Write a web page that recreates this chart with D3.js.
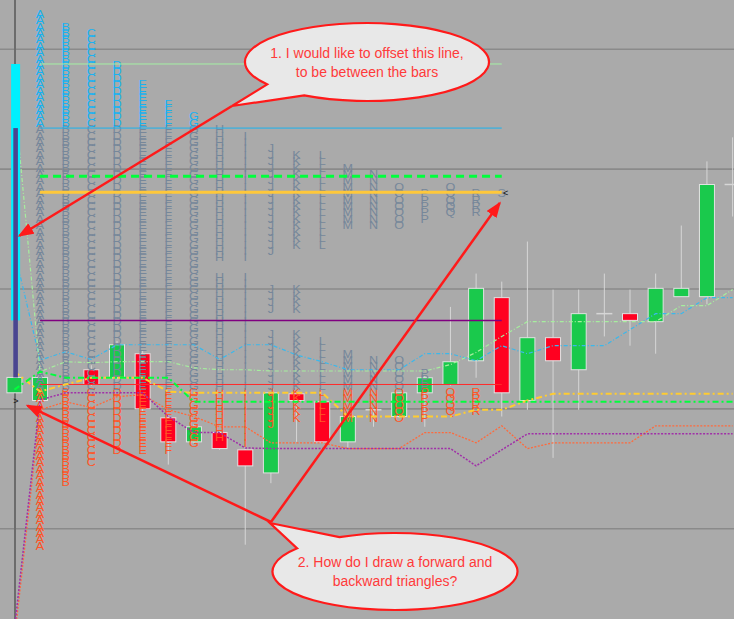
<!DOCTYPE html>
<html><head><meta charset="utf-8">
<script src="https://cdn.jsdelivr.net/npm/d3@7"></script>
<style>html,body{margin:0;padding:0;background:#aaaaaa;overflow:hidden}</style>
</head><body>
<svg id="chart" width="734" height="619"></svg>
<script>
// ---------------- DATA (price in ticks) ----------------
const barIndex = d3.range(29);
const opens  = [23.9, 22.7, null, 27.5, 26.25, 30, 20, 16.25, 17.7, 15, 11.4, 23.75, 22.5, 16.25, 21.25, 20.2, 23.9, 25.2, 28.9, 38.75, 22.7, 32.5, 27.5, 36.25, 36.25, 35, 38.9, 38.9, 56.4];
const highs  = [26.3, 26.5, null, 28.2, 32, 30.5, 20.5, 19, 18, 15.5, 24, 24, 22.5, 20.5, 21.25, 24, 26.5, 37.3, 42.5, 41.25, 47.5, 40, 40, 42.5, 40, 42.5, 50, 60, 63.75];
const lows   = [23.9, 22.5, null, 25, 26, 21, 12.7, 16, 15, 0.2, 9.8, 16.25, 16, 15.3, 18.6, 20, 18.6, 25, 26.25, 20.2, 21.25, 13.75, 21.25, 32.7, 31.25, 30, 38.9, 37.7, 51.4];
const closes = [26.3, 26.3, null, 25.2, 31.4, 21.4, 16.25, 18.6, 15.2, 12.5, 23.9, 22.7, 16.25, 20.2, 21.25, 23.9, 26.25, 28.75, 40.2, 23.9, 32.5, 28.9, 36.25, 36.25, 35.2, 40.2, 40.2, 56.4, 56.4];

const tpoLetters = "ABCDEFGHIJKLMNOPQRS".split("");
const tpoRanges = [
  [[0,83]], [[10,81]], [[13,80]], [[15,75]], [[15,72]], [[15,69]], [[16,67]],
  [[17,42],[45,65]], [[16,42],[45,64]],
  [[19,33],[37,40],[46,62]], [[20,33],[37,40],[47,61]],
  [[20,32],[47,61]], [[20,30],[50,59]], [[20,29],[50,58]], [[20,29],[50,56]],
  [[20,27],[51,55]], [[21,24],[52,56]], [[21,24],[52,55]], [[55,55]]
];
const valueAreaLow = 25, valueAreaHigh = 65;

// profile horizontal levels: prior high, VAH, dashed level, POC, mid, VAL
const profileLevels = [75.2, 65.2, 57.7, 55.2, 35.2, 25.2];

const lineLightBlue  = [46, 29, 30.3, 29.1, 31.4, 31.4, 31.4, 31.4, 29.1, 31.4, 31.4, 29.8, 28.75, 27.5, 27.5, 27.5, 30, 30, 28.9, 31.25, 30, 31.25, 31.25, 31.25, 33.75, 36.25, 36.25, 38.75, 38.75];
const lineLightGreen = [70, 27.2, 28.75, 28.6, 28.75, 28.75, 28.75, 27.8, 27.5, 27.5, 27.3, 27.3, 27.3, 27.3, 27.3, 27.3, 27.3, 28.3, 30.2, 32.7, 35, 35, 35, 35, 35, 35, 37.5, 37.5, 40];
const lineGreen      = [24.4, 27.2, 26.25, 26.25, 26.25, 26.25, 26.25, 22.5, 22.5, 22.5, 22.5, 22.5, 22.5, 22.5, 22.5, 22.5, 22.5, 22.5, 22.5, 22.5, 22.5, 22.5, 22.5, 22.5, 22.5, 22.5, 22.5, 22.5, 22.5];
const lineYellow     = [27.2, 24.1, 25.2, 26.25, 26.25, 26.25, 24.1, 23.9, 23.9, 23.9, 23.9, 23.9, 23.9, 20.2, 20.2, 20.2, 20.2, 20.2, 21.25, 21.25, 22.7, 23.75, 23.75, 23.75, 23.75, 23.75, 23.75, 23.75, 23.75];
const linePurple     = [-13, 22.8, 23.9, 23.9, 23.9, 23.9, 20.2, 17.7, 17.7, 15.3, 15.2, 15.2, 15.2, 15.2, 15.2, 15.2, 15.2, 15.2, 12.5, 15, 17.5, 17.5, 17.5, 17.5, 17.5, 17.5, 17.5, 17.5, 17.5];
const lineOrange     = [-14.7, 21.25, 22.5, 21.6, 23.3, 23.6, 21.25, 20.2, 18.6, 18.6, 16.1, 16.1, 16.1, 15.2, 15.2, 15.2, 17.7, 17.7, 16.1, 18.75, 15.2, 16.1, 16.1, 16.1, 16.1, 18.75, 18.75, 18.75, 18.75];

const rangeBarTop    = [75.2, 65.2];
const rangeBarBottom = [35.2, 26.3];

const gridLevels = [2.7, 21.4, 40.1, 58.8, 77.5];
const gridBars = [0];

const forwardMarkLevel = 22.6, backwardMarkLevel = 55.1;

const note1 = ["1. I would like to offset this line,", "to be between the bars"];
const note2 = ["2. How do I draw a forward and", "backward triangles?"];

// ---------------- SCALES ----------------
const W = 734, H = 619;
const svg = d3.select("#chart");
const x = d3.scaleLinear().domain([0, 28]).range([14.4, 732.6]);
const y = d3.scaleLinear().domain([0, 83]).range([546, 14]);

svg.append("rect").attr("width", W).attr("height", H).attr("fill", "#aaaaaa");

// grid
svg.append("g").selectAll("line").data(gridLevels).join("line")
  .attr("x1", 0).attr("x2", W).attr("y1", d => y(d)).attr("y2", d => y(d))
  .attr("stroke", "#8a8a8a").attr("stroke-width", 1.6);
svg.append("g").selectAll("line").data(gridBars).join("line")
  .attr("x1", d => x(d) + 0.6).attr("x2", d => x(d) + 0.6).attr("y1", 0).attr("y2", H)
  .attr("stroke", "#6c6c6c").attr("stroke-width", 2);

// candles
const candles = barIndex.filter(i => opens[i] != null).map(i => ({i, o: opens[i], h: highs[i], l: lows[i], c: closes[i]}));
const cg = svg.append("g");
cg.selectAll("line.wick").data(candles).join("line").attr("class", "wick")
  .attr("x1", d => x(d.i)).attr("x2", d => x(d.i)).attr("y1", d => y(d.h)).attr("y2", d => y(d.l))
  .attr("stroke", "#d6d6d6").attr("stroke-width", 1);
cg.selectAll("rect.body").data(candles.filter(d => d.o !== d.c)).join("rect").attr("class", "body")
  .attr("x", d => x(d.i) - 7.5).attr("width", 15)
  .attr("y", d => y(Math.max(d.o, d.c))).attr("height", d => Math.abs(y(d.o) - y(d.c)))
  .attr("fill", d => d.c > d.o ? "#1ac94c" : "#ff0020")
  .attr("stroke", "#e2e2e2").attr("stroke-width", 1);
cg.selectAll("line.doji").data(candles.filter(d => d.o === d.c)).join("line").attr("class", "doji")
  .attr("x1", d => x(d.i) - 8).attr("x2", d => x(d.i) + 8).attr("y1", d => y(d.o)).attr("y2", d => y(d.o))
  .attr("stroke", "#d6d6d6").attr("stroke-width", 1.5);

// TPO letters
const tpo = [];
tpoLetters.forEach((L, k) => {
  tpoRanges[k].forEach(([lo, hi]) => {
    for (let v = lo; v <= hi; v++) tpo.push({L, bar: k + 1, v});
  });
});
svg.append("g").selectAll("text").data(tpo).join("text")
  .attr("transform", d => `translate(${x(d.bar)},${y(d.v)}) scale(1.2,1)`)
  .attr("dy", "0.36em")
  .attr("text-anchor", "middle")
  .attr("font-family", "'Liberation Sans', Arial, sans-serif").attr("font-size", 10.5)
  .attr("fill", d => d.v > valueAreaHigh ? "#18b2f2" : (d.v < valueAreaLow ? "#ff5526" : "#76879a"))
  .text(d => d.L);

// profile level lines
const levelStyles = [
  {c: "#a4f0a4", w: 1, dash: null},
  {c: "#1ab4f0", w: 1, dash: null},
  {c: "#00ff3c", w: 3, dash: "8,5"},
  {c: "#ffc83a", w: 3, dash: null},
  {c: "#800080", w: 1.5, dash: null},
  {c: "#ff2a2a", w: 1, dash: null}
];
svg.append("g").selectAll("line").data(profileLevels).join("line")
  .attr("x1", x(1)).attr("x2", x(19)).attr("y1", d => y(d)).attr("y2", d => y(d))
  .attr("stroke", (d, i) => levelStyles[i].c).attr("stroke-width", (d, i) => levelStyles[i].w)
  .attr("stroke-dasharray", (d, i) => levelStyles[i].dash);

// moving lines
const series = [
  {d: lineOrange, c: "#ff6a3c", w: 1.3, dash: "2,1.5"},
  {d: linePurple, c: "#a030a8", w: 1.5, dash: "2,1.5"},
  {d: lineLightBlue, c: "#3ab8ec", w: 1.2, dash: "4,2,1,2"},
  {d: lineLightGreen, c: "#a6ee9e", w: 1.2, dash: "4,2,1,2"},
  {d: lineYellow, c: "#ffcc30", w: 2, dash: "6,3,2,3"},
  {d: lineGreen, c: "#00ff3c", w: 2, dash: "6,3,2,3"}
];
const lineGen = d3.line().x((d, i) => x(i)).y(d => y(d));
svg.append("g").selectAll("path").data(series).join("path")
  .attr("d", s => lineGen(s.d)).attr("fill", "none")
  .attr("stroke", s => s.c).attr("stroke-width", s => s.w).attr("stroke-dasharray", s => s.dash);

// range bars at first bar
const rbStyle = [{c: "#00f0ff", w: 9}, {c: "#4a4590", w: 4.6}];
svg.append("g").selectAll("rect").data(rangeBarTop).join("rect")
  .attr("x", (d, i) => x(0) + 1.2 - rbStyle[i].w / 2).attr("width", (d, i) => rbStyle[i].w)
  .attr("y", d => y(d)).attr("height", (d, i) => y(rangeBarBottom[i]) - y(d))
  .attr("fill", (d, i) => rbStyle[i].c);

// forward / backward marks
svg.append("text").attr("x", x(0) + 1.5).attr("y", y(forwardMarkLevel)).attr("dy", "0.35em")
  .attr("text-anchor", "middle").attr("font-family", "'Liberation Sans', Arial").attr("font-size", 9)
  .attr("fill", "#111").text(">");
svg.append("text").attr("x", x(19) + 4).attr("y", y(backwardMarkLevel)).attr("dy", "0.35em")
  .attr("text-anchor", "middle").attr("font-family", "'Liberation Sans', Arial").attr("font-size", 9)
  .attr("fill", "#111").text("<");

// arrows
const defs = svg.append("defs");
defs.append("marker").attr("id", "ah").attr("viewBox", "0 0 16 12").attr("refX", 14).attr("refY", 6)
  .attr("markerWidth", 16).attr("markerHeight", 12).attr("markerUnits", "userSpaceOnUse").attr("orient", "auto")
  .append("path").attr("d", "M0,0 L16,6 L0,12 Z").attr("fill", "#ff1a1a");
const arrows = [
  [[232, 106], [x(0) + 5, y(48.4)]],
  [[271, 522], [x(0) + 13, y(21.9)]],
  [[271, 522], [x(19) - 2, y(53.5)]]
];
svg.append("g").selectAll("line").data(arrows).join("line")
  .attr("x1", d => d[0][0]).attr("y1", d => d[0][1]).attr("x2", d => d[1][0]).attr("y2", d => d[1][1])
  .attr("stroke", "#ff1a1a").attr("stroke-width", 2.5).attr("marker-end", "url(#ah)");

// callouts
function callout(cx, cy, rx, ry, t1, t2, tip, lines, base) {
  const p1 = [cx + rx * Math.cos(t1), cy + ry * Math.sin(t1)];
  const p2 = [cx + rx * Math.cos(t2), cy + ry * Math.sin(t2)];
  const path = `M${p1[0]},${p1[1]} A${rx},${ry} 0 1 1 ${p2[0]},${p2[1]} L${tip[0]},${tip[1]} Z`;
  svg.append("path").attr("d", path).attr("fill", "#e8e8e8").attr("stroke", "#ff1a1a").attr("stroke-width", 2.2)
    .attr("stroke-linejoin", "miter");
  svg.append("g").selectAll("text").data(lines).join("text")
    .attr("x", cx).attr("y", (d, i) => base + i * 18.5).attr("text-anchor", "middle")
    .attr("font-family", "'Liberation Sans', Arial, sans-serif").attr("font-size", 14)
    .attr("fill", "#ff3a3a").text(d => d);
}
const deg = Math.PI / 180;
callout(367, 62, 122, 39, 145 * deg, 121 * deg, [232, 106], note1, 58);
callout(395, 571.5, 122.5, 38.5, 243 * deg, 217 * deg, [270, 523], note2, 567);
</script>
</body></html>
